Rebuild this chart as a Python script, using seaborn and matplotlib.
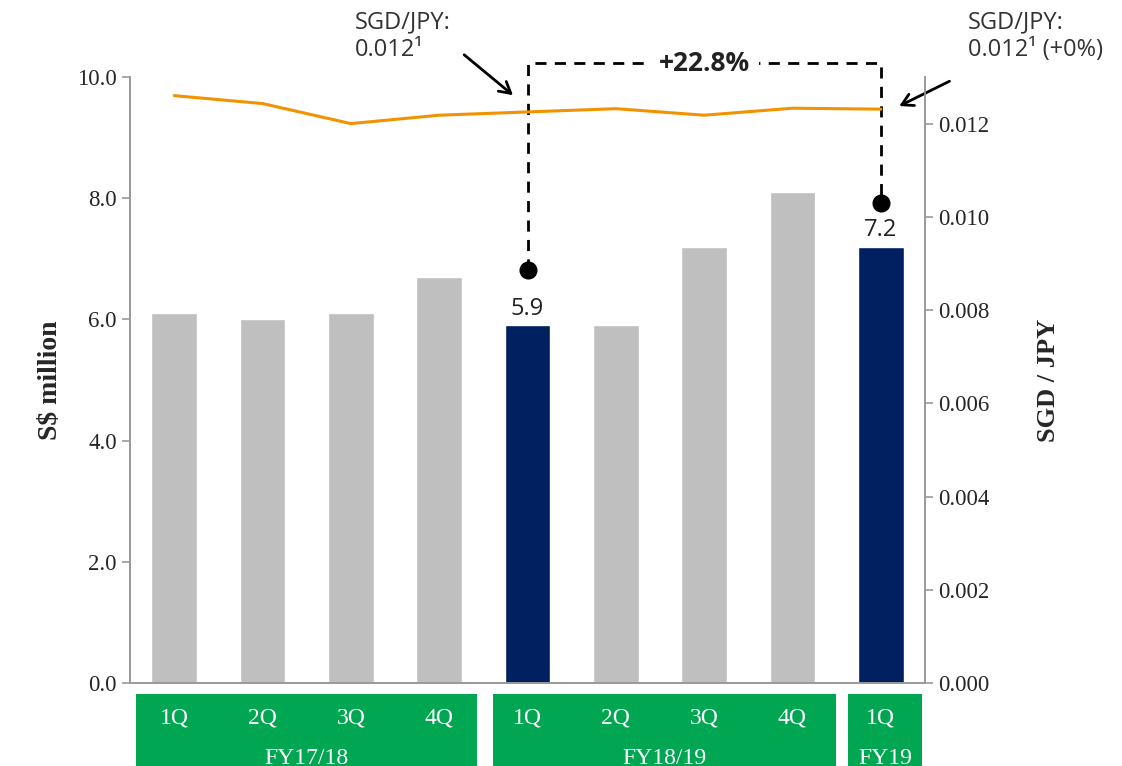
"""
Quarterly revenue (S$ million) with SGD/JPY rate on secondary axis
"""

import matplotlib
matplotlib.use("Agg")
import matplotlib.pyplot as plt
import matplotlib.transforms as mtransforms
from matplotlib.patches import Rectangle
import numpy as np
import pandas as pd
import seaborn as sns

# data
quarters = ["1Q", "2Q", "3Q", "4Q", "1Q", "2Q", "3Q", "4Q", "1Q"]
fiscal_years = ["FY17/18"] * 4 + ["FY18/19"] * 4 + ["FY19"]
revenue = [6.1, 6.0, 6.1, 6.7, 5.9, 5.9, 7.2, 8.1, 7.2]
highlight = [False, False, False, False, True, False, False, False, True]
sgd_jpy = [0.0126, 0.01243, 0.0120, 0.01218, 0.01225, 0.01232, 0.01218, 0.01233, 0.01231]
growth_label = "+22.8%"
fx_start_label = "SGD/JPY:\n0.012¹"
fx_end_label = "SGD/JPY:\n0.012¹ (+0%)"

GREY = "#BFBFBF"
NAVY = "#002060"
ORANGE = "#F39200"
GREEN = "#00A651"
SERIF = "Liberation Serif"
SANS = "Open Sans"

sns.set_style("white")
plt.rcParams["font.family"] = [SERIF, "DejaVu Serif"]

df = pd.DataFrame({
    "cat": [f"{q} {fy} {i}" for i, (q, fy) in enumerate(zip(quarters, fiscal_years))],
    "revenue": revenue,
    "hl": ["yes" if h else "no" for h in highlight],
    "fx": sgd_jpy,
    "pos": np.arange(len(revenue)),
})

fig = plt.figure(figsize=(11.22, 7.66), dpi=100)
ax = fig.add_axes([0.1159, 0.1084, 0.7085, 0.7911])

sns.barplot(data=df, x="cat", y="revenue", hue="hl", palette={"no": GREY, "yes": NAVY},
            dodge=False, width=0.52, legend=False, ax=ax, saturation=1)
ax.set_xlim(-0.5, len(revenue) - 0.5)
ax.set_ylim(0, 10)
ax.set_yticks(np.arange(0, 10.1, 2))
ax.set_yticklabels([f"{v:.1f}" for v in np.arange(0, 10.1, 2)], fontsize=16.5)
ax.set_xticks([])
ax.set_xticks(np.arange(-0.5, len(revenue)), minor=True)
ax.tick_params(axis="x", which="minor", length=7, color="#999999", width=1.2, labelbottom=False)
ax.tick_params(axis="y", length=6, color="#999999", width=1.2, direction="out", left=True)
ax.set_xlabel("")
ax.set_ylabel("S$ million", fontsize=20, fontweight="bold", labelpad=10)
for s in ["left", "bottom", "right"]:
    ax.spines[s].set_color("#999999")
    ax.spines[s].set_linewidth(1.2)
ax.spines["top"].set_visible(False)

# secondary axis: exchange rate
ax2 = ax.twinx()
sns.lineplot(data=df, x="pos", y="fx", color=ORANGE, linewidth=2.2, ax=ax2)
ax2.set_ylim(0, 0.013)
ax2.set_yticks(np.arange(0, 0.0121, 0.002))
ax2.set_yticklabels([f"{v:.3f}" for v in np.arange(0, 0.0121, 0.002)], fontsize=16.5)
ax2.tick_params(axis="y", length=6, color="#999999", width=1.2, direction="out", right=True)
ax2.set_ylabel("SGD / JPY", fontsize=19, fontweight="bold", labelpad=34)
ax2.set_xlabel("")
ax2.set_xlim(-0.5, len(revenue) - 0.5)
for s in ["left", "bottom", "right"]:
    ax2.spines[s].set_color("#999999")
    ax2.spines[s].set_linewidth(1.2)
ax2.spines["top"].set_visible(False)

# value labels on highlighted bars + growth bracket
hl_idx = [i for i, h in enumerate(highlight) if h]
dot_y = [6.82, 7.92]
bracket_y = 10.23
for i, yd in zip(hl_idx, dot_y):
    ax.text(i, revenue[i] + 0.08, f"{revenue[i]:.1f}", ha="center", va="bottom",
            fontsize=17, family=SANS, color="#222222")
    ax.plot([i], [yd], "o", color="black", markersize=12, clip_on=False, zorder=5)
x0, x1 = hl_idx
ax.plot([x0, x0, x1, x1], [dot_y[0], bracket_y, bracket_y, dot_y[1]], color="black",
        linestyle=(0, (4, 3)), linewidth=2, clip_on=False, zorder=4)
ax.text((x0 + x1) / 2, bracket_y, growth_label, ha="center", va="center", fontsize=19,
        fontweight="bold", family=SANS, color="#222222",
        bbox=dict(facecolor="white", edgecolor="none", pad=7), zorder=6)

# FX call-outs
ax.annotate("", xy=(3.86, 9.67), xytext=(462, 713), textcoords="figure pixels",
            arrowprops=dict(arrowstyle="->,head_length=0.8,head_width=0.45", color="black", lw=2),
            annotation_clip=False)
fig.text(355, 756, fx_start_label, transform=None, ha="left", va="top", fontsize=17,
         family=SANS, color="#333333", linespacing=1.2)
ax.annotate("", xy=(8.18, 9.5), xytext=(952, 686), textcoords="figure pixels",
            arrowprops=dict(arrowstyle="->,head_length=0.8,head_width=0.45", color="black", lw=2),
            annotation_clip=False)
fig.text(968, 756, fx_end_label, transform=None, ha="left", va="top", fontsize=17,
         family=SANS, color="#333333", linespacing=1.2)

# category boxes below the axis (the year labels run off the bottom edge as in the source)
trans = mtransforms.blended_transform_factory(ax.transData, ax.transAxes)
groups = [("FY17/18", -0.43, 3.43), ("FY18/19", 3.61, 7.49), ("FY19", 7.63, 8.47)]
for name, gx0, gx1 in groups:
    ax.add_patch(Rectangle((gx0, -0.2), gx1 - gx0, 0.182, transform=trans, facecolor=GREEN,
                           edgecolor="none", clip_on=False))
    ax.text((gx0 + gx1) / 2, -0.125, name, transform=trans, ha="center", va="center",
            fontsize=17, color="white")
for i, q in enumerate(quarters):
    ax.text(i, -0.058, q, transform=trans, ha="center", va="center", fontsize=17, color="white")

fig.savefig("out.png", dpi=100)
plt.close(fig)
